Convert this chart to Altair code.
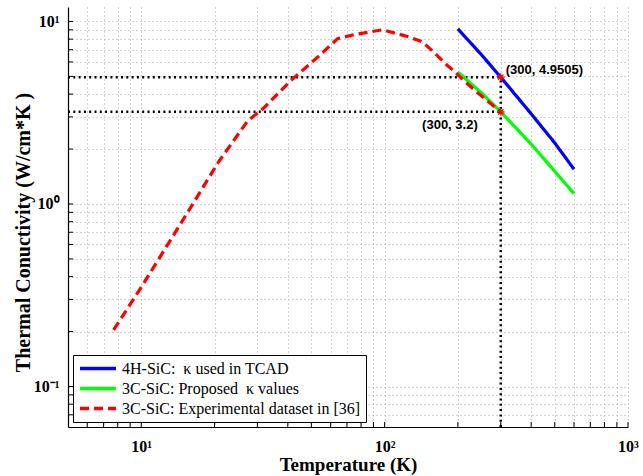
import altair as alt
import pandas as pd

# Axis limits (both log scales)
x_limits = [5, 1000]
y_limits = [0.06, 12]

# Grid / tick positions and the decade labels
x_ticks = [6, 7, 8, 9, 10, 20, 30, 40, 50, 60, 70, 80, 90,
           100, 200, 300, 400, 500, 600, 700, 800, 900, 1000]
x_major = [10, 100, 1000]
x_major_labels = ["10¹", "10²", "10³"]
y_ticks = [0.07, 0.08, 0.09, 0.1, 0.2, 0.3, 0.4, 0.5, 0.6, 0.7, 0.8, 0.9,
           1, 2, 3, 4, 5, 6, 7, 8, 9, 10]
y_major = [0.1, 1, 10]
y_major_labels = ["10⁻¹", "10⁰", "10¹"]

# Series (non-breaking spaces keep the wide gaps before kappa)
series_names = ["4H-SiC: \u00a0κ used in TCAD",
                "3C-SiC: Proposed \u00a0κ values",
                "3C-SiC: Experimental dataset in [36]"]
series_colors = ["#0000ff", "#00ff00", "#ff0000"]

tcad_T = [200, 250, 300, 400, 500, 600]
tcad_k = [9.1, 6.57, 4.9505, 3.12, 2.16, 1.55]

prop_T = [200, 250, 300, 400, 500, 600]
prop_k = [5.28, 4.06, 3.2, 2.13, 1.51, 1.14]

exp_T = [7.7, 10, 14.6, 20.9, 27.4, 31.6, 41.2, 53.1, 64.1, 75, 98,
         126, 143, 159, 181, 192, 211, 254, 300]
exp_k = [0.204, 0.35, 0.79, 1.72, 2.86, 3.32, 4.75, 6.38, 8.05, 8.47, 9.0,
         8.23, 7.72, 6.8, 5.74, 5.39, 4.75, 3.84, 3.2]

# Marked points at 300 K
ref_T = [300, 300]
ref_k = [4.9505, 3.2]
ref_labels = ["(300, 4.9505)", "(300, 3.2)"]

rows = []
for name, Ts, ks in zip(series_names, [tcad_T, prop_T, exp_T], [tcad_k, prop_k, exp_k]):
    for i, (t, k) in enumerate(zip(Ts, ks)):
        rows.append({"series": name, "T": t, "k": k, "i": i})
lines_df = pd.DataFrame(rows)

ref_df = pd.DataFrame({"T": ref_T, "k": ref_k, "label": ref_labels,
                       "T0": [x_limits[0]] * 2})
vert_df = pd.DataFrame({"T": [ref_T[0]], "k": [y_limits[0]], "k2": [ref_k[0]]})
xt_df = pd.DataFrame({"T": x_ticks})
yt_df = pd.DataFrame({"k": y_ticks})


def label_expr(vals, labels):
    parts = [f"datum.value == {v} ? '{l}'" for v, l in zip(vals, labels)]
    return " : ".join(parts) + " : ''"


serif = "Liberation Serif"
W, H = 560, 420

x_scale = alt.Scale(type="log", domain=x_limits, nice=False)
y_scale = alt.Scale(type="log", domain=y_limits, nice=False)

x_axis = alt.Axis(values=x_ticks, labelExpr=label_expr(x_major, x_major_labels),
                  title="Temperature (K)", ticks=False, grid=True,
                  gridDash=[1, 3], gridColor="#a8a8a8", gridWidth=1,
                  domainColor="black", domainWidth=1.2,
                  labelFont=serif, labelFontWeight="bold", labelFontSize=16,
                  labelColor="black", labelPadding=11, labelOverlap=False,
                  labelBound=False, labelFlush=False,
                  titleFont=serif, titleFontWeight="bold", titleFontSize=19,
                  titleColor="black", titlePadding=1)
y_axis = alt.Axis(values=y_ticks, labelExpr=label_expr(y_major, y_major_labels),
                  title="Thermal Conuctivity (W/cm*K )", ticks=False, grid=True,
                  gridDash=[1, 3], gridColor="#a8a8a8", gridWidth=1,
                  domainColor="black", domainWidth=1.2,
                  labelFont=serif, labelFontWeight="bold", labelFontSize=16,
                  labelColor="black", labelPadding=9, labelOverlap=False,
                  labelBound=False, labelFlush=False,
                  titleFont=serif, titleFontWeight="bold", titleFontSize=20,
                  titleColor="black", titleX=-45, titleY=225,
                  titleBaseline="middle", titleAlign="center", titleAngle=270)

X = lambda f="T": alt.X(f"{f}:Q", scale=x_scale, axis=x_axis)
Y = lambda f="k": alt.Y(f"{f}:Q", scale=y_scale, axis=y_axis)

# inward ticks along the bottom and left axes
x_tick_layer = alt.Chart(xt_df).mark_rule(color="black", strokeWidth=1).encode(
    x=X(), y=alt.value(H), y2=alt.value(H - 5))
y_tick_layer = alt.Chart(yt_df).mark_rule(color="black", strokeWidth=1).encode(
    y=Y(), x=alt.value(0), x2=alt.value(5))

# dotted guide lines to the 300 K points
h_guides = alt.Chart(ref_df).mark_rule(color="black", strokeWidth=2.5,
                                       strokeDash=[2, 3.3]).encode(
    x=X("T0"), x2="T:Q", y=Y())
v_guide = alt.Chart(vert_df).mark_rule(color="black", strokeWidth=2.5,
                                       strokeDash=[2, 3.3]).encode(
    x=X(), y=Y(), y2="k2:Q")

legend = alt.Legend(orient="none", legendX=5, legendY=348, title=None,
                    fillColor="white", strokeColor="black",
                    padding=5, rowPadding=3, symbolType="stroke",
                    symbolSize=1296, symbolStrokeWidth=3.5, labelOffset=4,
                    labelFont=serif, labelFontSize=16, labelColor="black",
                    labelLimit=400, clipHeight=17)

lines = alt.Chart(lines_df).mark_line(strokeWidth=3.2).encode(
    x=X(), y=Y(),
    color=alt.Color("series:N", scale=alt.Scale(domain=series_names, range=series_colors),
                    legend=legend),
    strokeDash=alt.StrokeDash("series:N",
                              scale=alt.Scale(domain=series_names,
                                              range=[[1, 0], [1, 0], [9, 5]]),
                              legend=legend),
    order="i:Q")

asterisk = "M-1,0L1,0M0,-1L0,1M-0.7,-0.7L0.7,0.7M-0.7,0.7L0.7,-0.7"
markers = alt.Chart(ref_df).mark_point(shape=asterisk, color="red", filled=False,
                                       size=60, strokeWidth=1.2, opacity=1).encode(
    x=X(), y=Y())

label_style = dict(font="Liberation Sans", fontWeight="bold", fontSize=13, color="black")
text_top = alt.Chart(ref_df.iloc[[0]]).mark_text(align="left", baseline="middle",
                                                 dx=5, dy=-7, **label_style).encode(
    x=X(), y=Y(), text="label:N")
text_bottom = alt.Chart(ref_df.iloc[[1]]).mark_text(align="right", baseline="middle",
                                                    dx=-23, dy=13, **label_style).encode(
    x=X(), y=Y(), text="label:N")

chart = alt.layer(
    x_tick_layer, y_tick_layer, h_guides, v_guide, lines, markers, text_top, text_bottom
).properties(
    width=W, height=H,
    autosize=alt.AutoSizeParams(type="none"),
    padding={"left": 68, "top": 7, "right": 15, "bottom": 49},
    background="white",
).configure_view(stroke="transparent").configure_legend(strokeWidth=1, cornerRadius=0)

chart.save("out.html", embed_options={"renderer": "svg", "actions": False})
